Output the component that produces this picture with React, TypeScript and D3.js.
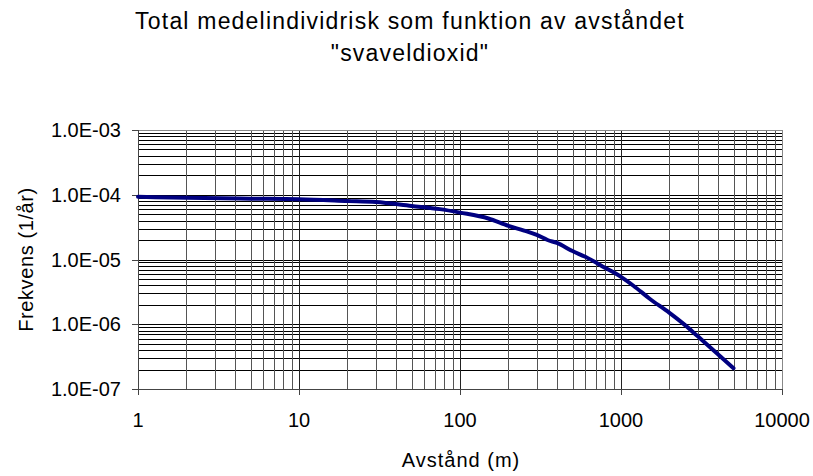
import React from "react";
import * as d3 from "d3";

const titleLines = ["Total medelindividrisk som funktion av avståndet", "\"svaveldioxid\""];
const xLabel = "Avstånd (m)";
const yLabel = "Frekvens (1/år)";

const distances = [1, 2, 5, 10, 20, 30, 50, 75, 100, 150, 200, 250, 300, 350, 400, 500, 600, 800, 1000, 1200, 1500, 2000, 2500, 3000, 4000, 5000];
const frequencies = [9.3e-5, 9.0e-5, 8.7e-5, 8.5e-5, 8.0e-5, 7.7e-5, 6.7e-5, 6.0e-5, 5.3e-5, 4.3e-5, 3.3e-5, 2.8e-5, 2.4e-5, 2.0e-5, 1.8e-5, 1.35e-5, 1.1e-5, 7.4e-6, 5.4e-6, 3.9e-6, 2.5e-6, 1.5e-6, 9.7e-7, 6.5e-7, 3.45e-7, 2.1e-7];

const xTicks = [1, 10, 100, 1000, 10000];
const xTickLabels = ["1", "10", "100", "1000", "10000"];
const yTicks = [1e-3, 1e-4, 1e-5, 1e-6, 1e-7];
const yTickLabels = ["1.0E-03", "1.0E-04", "1.0E-05", "1.0E-06", "1.0E-07"];

const W = 813;
const H = 476;
const L = 138, R = 782, T = 130, B = 389;
const FONT = "'Liberation Sans', Arial, sans-serif";

export default function App() {
  const x = d3.scaleLog().domain([1, 10000]).range([L, R]);
  const y = d3.scaleLog().domain([1e-7, 1e-3]).range([B, T]);

  const xGrid: { v: number; major: boolean }[] = [];
  for (let e = 0; e < 4; e++) {
    for (let m = 1; m <= 9; m++) {
      const v = m * Math.pow(10, e);
      if (v > 1) xGrid.push({ v, major: m === 1 });
    }
  }
  const yGrid: number[] = [];
  for (let e = -7; e < -3; e++) {
    for (let m = 1; m <= 9; m++) {
      const v = m * Math.pow(10, e);
      if (v > 1e-7 * 1.0001) yGrid.push(v);
    }
  }
  yGrid.push(1e-3);

  const data = distances.map((d, i) => [d, frequencies[i]] as [number, number]);
  const line = d3
    .line<[number, number]>()
    .x((d) => x(d[0]))
    .y((d) => y(d[1]))
    .curve(d3.curveMonotoneX);

  return (
    <svg width={W} height={H} style={{ position: "absolute", left: 0, top: 0, background: "#fff" }} fontFamily={FONT}>
      <rect x={0} y={0} width={W} height={H} fill="#fff" />
      {titleLines.map((t, i) => (
        <text key={i} x={410} y={29 + i * 32} textAnchor="middle" fontSize={23} letterSpacing={1.2} fill="#000">
          {t}
        </text>
      ))}
      <g shapeRendering="crispEdges">
        {yGrid.map((v, i) => (
          <line key={"h" + i} x1={L} x2={R} y1={Math.round(y(v)) + 0.5} y2={Math.round(y(v)) + 0.5} stroke="#000" strokeWidth={1} />
        ))}
        {xGrid.map((g, i) => (
          <line
            key={"v" + i}
            x1={Math.round(x(g.v)) + 0.5}
            x2={Math.round(x(g.v)) + 0.5}
            y1={T}
            y2={B}
            stroke={g.major ? "#222" : "#555"}
            strokeWidth={1}
          />
        ))}
        <line x1={L} x2={R} y1={T + 0.5} y2={T + 0.5} stroke="#888" />
        <line x1={R + 0.5} x2={R + 0.5} y1={T} y2={B} stroke="#888" />
        <line x1={L + 0.5} x2={L + 0.5} y1={T} y2={B + 6} stroke="#444" />
        <line x1={L - 6} x2={R} y1={B + 0.5} y2={B + 0.5} stroke="#444" />
        {yTicks.map((v, i) => (
          <line key={"yt" + i} x1={L - 6} x2={L} y1={Math.round(y(v)) + 0.5} y2={Math.round(y(v)) + 0.5} stroke="#444" />
        ))}
        {xTicks.map((v, i) => (
          <line key={"xt" + i} x1={Math.round(x(v)) + 0.5} x2={Math.round(x(v)) + 0.5} y1={B} y2={B + 6} stroke="#444" />
        ))}
      </g>
      <path d={line(data) || ""} fill="none" stroke="#000080" strokeWidth={4} strokeLinejoin="round" strokeLinecap="round" />
      {yTicks.map((v, i) => (
        <text key={"yl" + i} x={121} y={y(v)} dy="0.35em" textAnchor="end" fontSize={20} fill="#000">
          {yTickLabels[i]}
        </text>
      ))}
      {xTicks.map((v, i) => (
        <text key={"xl" + i} x={x(v)} y={427} textAnchor="middle" fontSize={20} fill="#000">
          {xTickLabels[i]}
        </text>
      ))}
      <text x={461} y={467} textAnchor="middle" fontSize={20} letterSpacing={1} fill="#000">
        {xLabel}
      </text>
      <text transform={`translate(33, ${(T + B) / 2}) rotate(-90)`} textAnchor="middle" fontSize={20} letterSpacing={0.6} fill="#000">
        {yLabel}
      </text>
    </svg>
  );
}
